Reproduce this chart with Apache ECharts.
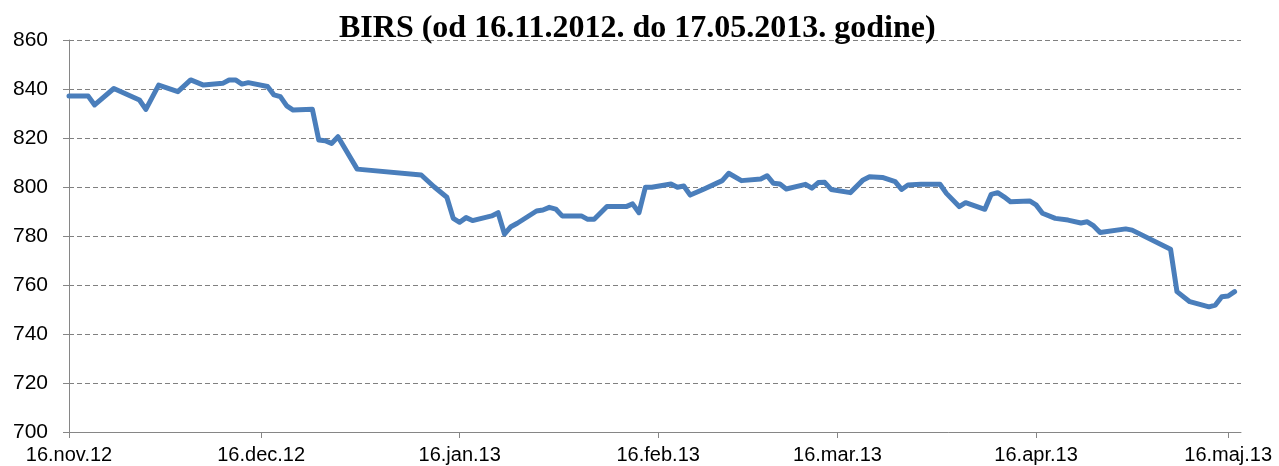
<!DOCTYPE html>
<html>
<head>
<meta charset="utf-8">
<script src="https://cdn.jsdelivr.net/npm/echarts@6/dist/echarts.min.js"></script>
<style>
html,body{margin:0;padding:0;background:#fff;}
#chart{width:1279px;height:466px;}
</style>
</head>
<body>
<div id="chart"></div>
<script>
const titleText = 'BIRS (od 16.11.2012. do 17.05.2013. godine)';

const dates = [
  '2012-11-16','2012-11-19','2012-11-20','2012-11-23','2012-11-27','2012-11-28','2012-11-30',
  '2012-12-03','2012-12-05','2012-12-07','2012-12-10','2012-12-11','2012-12-12','2012-12-13','2012-12-14',
  '2012-12-17','2012-12-18','2012-12-19','2012-12-20','2012-12-21','2012-12-24','2012-12-25','2012-12-26',
  '2012-12-27','2012-12-28','2012-12-31',
  '2013-01-10','2013-01-12','2013-01-14','2013-01-15','2013-01-16','2013-01-17','2013-01-18',
  '2013-01-21','2013-01-22','2013-01-23','2013-01-24','2013-01-25','2013-01-28','2013-01-29',
  '2013-01-30','2013-01-31',
  '2013-02-01','2013-02-04','2013-02-05','2013-02-06','2013-02-08','2013-02-11','2013-02-12',
  '2013-02-13','2013-02-14','2013-02-15','2013-02-18','2013-02-19','2013-02-20','2013-02-21',
  '2013-02-23','2013-02-26','2013-02-27',
  '2013-03-01','2013-03-04','2013-03-05','2013-03-06','2013-03-07','2013-03-08','2013-03-11',
  '2013-03-12','2013-03-13','2013-03-14','2013-03-15','2013-03-18','2013-03-20','2013-03-21',
  '2013-03-23','2013-03-25','2013-03-26','2013-03-27','2013-03-29',
  '2013-04-01','2013-04-02','2013-04-04','2013-04-05','2013-04-08','2013-04-09','2013-04-10',
  '2013-04-11','2013-04-12','2013-04-15','2013-04-16','2013-04-17','2013-04-19','2013-04-21',
  '2013-04-23','2013-04-24','2013-04-25','2013-04-26','2013-04-30',
  '2013-05-01','2013-05-07','2013-05-08','2013-05-10','2013-05-13','2013-05-14','2013-05-15',
  '2013-05-16','2013-05-17'
];

const values = [
  837.1,837.1,833.5,840.2,835.5,831.7,841.6,
  838.9,843.7,841.6,842.3,843.7,843.7,842.0,842.6,
  841.0,837.6,836.9,833.1,831.4,831.7,819.2,818.9,
  817.8,820.5,807.3,
  804.9,800.1,795.8,787.2,785.6,787.5,786.3,
  788.2,789.5,780.8,783.8,785.2,790.2,790.6,
  791.7,791.0,
  788.2,788.2,786.8,786.8,792.0,792.0,793.1,
  789.5,799.9,799.9,801.2,799.9,800.4,796.7,
  799.0,802.6,805.6,
  802.6,803.3,804.6,801.5,801.2,799.2,801.1,
  799.5,801.8,801.9,799.0,797.7,802.9,804.2,
  803.9,802.2,799.0,800.8,801.1,
  801.1,797.4,792.0,793.6,790.9,797.0,797.7,
  796.0,794.0,794.3,792.7,789.3,787.2,786.5,
  785.3,785.8,784.1,781.4,782.9,
  782.4,774.6,757.3,753.2,751.1,751.8,755.2,
  755.5,757.3
];

const tickDates = ['2012-11-16','2012-12-16','2013-01-16','2013-02-16','2013-03-16','2013-04-16','2013-05-16'];
const tickLabels = ['16.nov.12','16.dec.12','16.jan.13','16.feb.13','16.mar.13','16.apr.13','16.maj.13'];
const axisStart = '2012-11-16';
const axisEnd = '2013-05-18';
const yMin = 700, yMax = 860, yStep = 20;

function ts(s){ const p = s.split('-').map(Number); return Date.UTC(p[0], p[1]-1, p[2]); }

const tickTs = tickDates.map(ts);
const labelMap = {};
tickTs.forEach((t,i)=>{ labelMap[t] = tickLabels[i]; });
const seriesData = dates.map((d,i)=>[ts(d), values[i]]);

const chart = echarts.init(document.getElementById('chart'), null, {renderer:'canvas'});
const gray = '#868686';
chart.setOption({
  animation:false,
  backgroundColor:'#ffffff',
  title:{
    text:titleText,
    left:334,
    top:8,
    textStyle:{fontFamily:'Liberation Serif', fontWeight:'bold', fontSize:32, color:'#000'}
  },
  grid:{left:69, right:38, top:40, bottom:34, containLabel:false},
  xAxis:{
    type:'value',
    min:ts(axisStart),
    max:ts(axisEnd),
    axisLine:{show:true, lineStyle:{color:gray, width:1}},
    axisTick:{show:true, customValues:tickTs, length:6, lineStyle:{color:gray}},
    axisLabel:{
      customValues:tickTs,
      formatter:(v)=>labelMap[v] || '',
      fontFamily:'Liberation Sans', fontSize:20, color:'#000', margin:13
    },
    splitLine:{show:false}
  },
  yAxis:{
    type:'value',
    min:yMin, max:yMax, interval:yStep,
    axisLine:{show:true, lineStyle:{color:gray, width:1}},
    axisTick:{show:true, length:6, lineStyle:{color:gray}},
    axisLabel:{fontFamily:'Liberation Sans', fontSize:21, color:'#000', margin:21},
    splitLine:{show:true, lineStyle:{color:'#808080', type:[5,3], width:1}}
  },
  series:[{
    type:'line',
    data:seriesData,
    showSymbol:false,
    symbol:'none',
    lineStyle:{color:'#4A7EBB', width:5, cap:'round', join:'round'},
    z:3
  }]
});
</script>
</body>
</html>
